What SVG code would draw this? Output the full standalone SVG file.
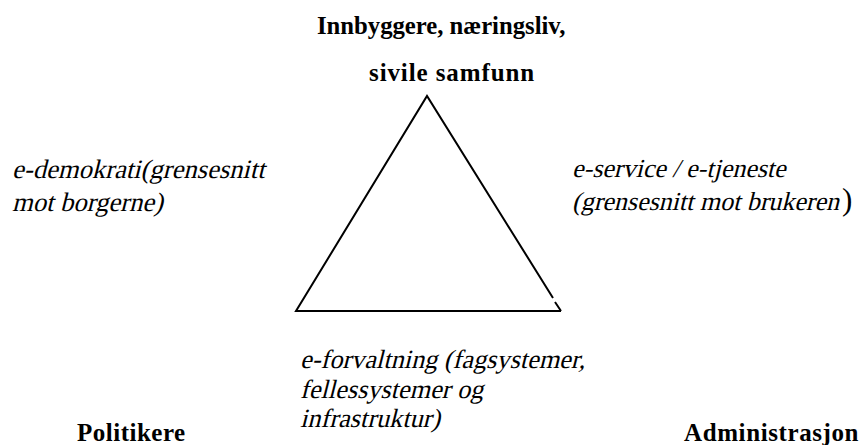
<svg xmlns="http://www.w3.org/2000/svg" width="861" height="445" viewBox="0 0 861 445">
<rect width="861" height="445" fill="#fff"/>
<g id="connectors">
<path d="M553,298 L427,96 L296,311 L561,311 M555,302 L561,311" stroke="#000" stroke-width="2" fill="none"/>
</g>
<g id="node-top">
<text x="317" y="34" font-family="'Liberation Serif'" font-weight="bold" font-size="24.7">Innbyggere, næringsliv,</text>
<text x="369" y="81" font-family="'Liberation Serif'" font-weight="bold" font-size="25" letter-spacing="0.9">sivile samfunn</text>
</g>
<g id="edge-text-left">
<text transform="translate(12,178) skewX(-14)" font-family="'Liberation Serif'" font-size="26.6">e-demokrati(grensesnitt</text>
<text transform="translate(12,211) skewX(-14)" font-family="'Liberation Serif'" font-size="26.6">mot borgerne)</text>
</g>
<g id="edge-text-right">
<text transform="translate(572,177) skewX(-14)" font-family="'Liberation Serif'" font-size="26">e-service / e-tjeneste</text>
<text transform="translate(572,210) skewX(-14)" font-family="'Liberation Serif'" font-size="26">(grensesnitt mot brukeren</text>
<text x="842" y="210" font-family="'Liberation Serif'" font-size="31">)</text>
</g>
<g id="edge-text-bottom">
<text transform="translate(300,368) skewX(-14)" font-family="'Liberation Serif'" font-size="26.3">e-forvaltning (fagsystemer,</text>
<text transform="translate(300,398) skewX(-14)" font-family="'Liberation Serif'" font-size="26.3">fellessystemer og</text>
<text transform="translate(300,427) skewX(-14)" font-family="'Liberation Serif'" font-size="26.3">infrastruktur)</text>
</g>
<g id="node-left">
<text x="77" y="441" font-family="'Liberation Serif'" font-weight="bold" font-size="25" letter-spacing="0.5">Politikere</text>
</g>
<g id="node-right">
<text x="684" y="441" font-family="'Liberation Serif'" font-weight="bold" font-size="25" letter-spacing="0.6">Administrasjon</text>
</g>
</svg>
